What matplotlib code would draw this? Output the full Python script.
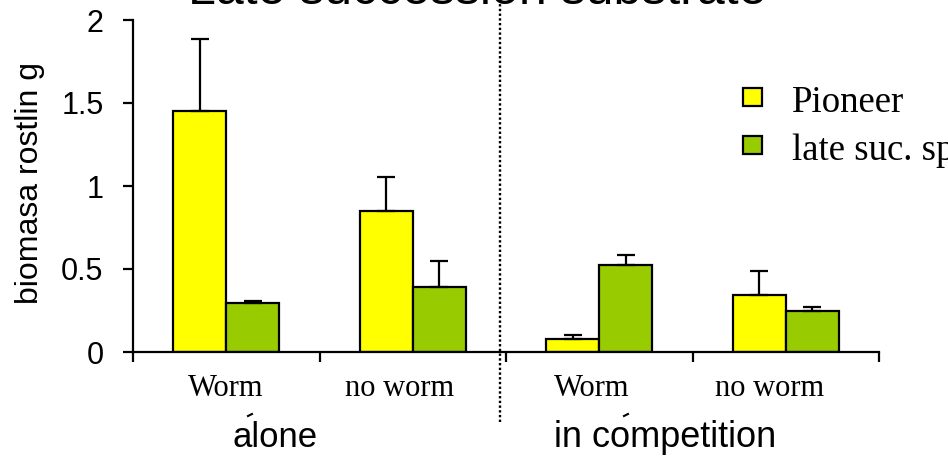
import numpy as np
import matplotlib
matplotlib.use("Agg")
import matplotlib.pyplot as plt
from matplotlib.patches import Rectangle
from matplotlib.lines import Line2D

# data
categories = ["Worm", "no worm", "Worm", "no worm"]
groups = ["alone", "in competition"]
series_names = ["Pioneer", "late suc. sp"]
pioneer = [1.45, 0.85, 0.08, 0.345]
pioneer_err = [0.435, 0.205, 0.024, 0.145]
late = [0.297, 0.393, 0.526, 0.249]
late_err = [0.012, 0.157, 0.06, 0.024]
ytick_vals = [0, 0.5, 1, 1.5, 2]
ytick_labels = ["0", "0.5", "1", "1.5", "2"]

colors = ["#FFFF00", "#99CC00"]
W, H = 948, 458

fig = plt.figure(figsize=(W / 100, H / 100), dpi=100)
ax = fig.add_axes([133 / W, 1 - 352 / H, 746 / W, 332 / H])

x = np.arange(len(categories))
bw = 0.284
for i, (vals, errs) in enumerate([(pioneer, pioneer_err), (late, late_err)]):
    pos = x + (i - 0.5) * bw
    ax.bar(pos, vals, bw, color=colors[i], edgecolor="black", linewidth=1.6, zorder=2)
    ax.errorbar(pos, vals, yerr=[np.zeros(len(vals)), errs], fmt="none",
                ecolor="black", elinewidth=1.6, capsize=6.5, capthick=1.6, zorder=3)

ax.set_xlim(-0.5, 3.5)
ax.set_ylim(0, 2)
for s in ["top", "right"]:
    ax.spines[s].set_visible(False)
for s in ["left", "bottom"]:
    ax.spines[s].set_linewidth(1.6)

ax.set_yticks(ytick_vals)
ax.set_yticklabels(ytick_labels, fontfamily="Liberation Sans", fontsize=22)
ax.tick_params(axis="y", direction="out", length=7.2, width=1.6, pad=14)

ax.set_xticks(np.arange(-0.5, len(categories), 1.0))
ax.set_xticklabels([])
ax.tick_params(axis="x", which="major", direction="out", length=7.2, width=1.6)
# category labels sit slightly left of the bar centres in the original
ax.set_xticks(x - np.array([0.005, 0.07, 0.04, 0.086]), minor=True)
ax.set_xticklabels(categories, minor=True, fontfamily="Liberation Serif", fontsize=22)
ax.tick_params(axis="x", which="minor", length=0, pad=16)

ax.set_ylabel("biomasa rostlin g", fontfamily="Liberation Sans", fontsize=23)
ax.yaxis.set_label_coords(-(133 - 45) / 746, (352 - 183) / 332)

# dotted separator
ax.plot([1.468, 1.468], [-0.42, 2.2], color="black", linestyle=(0, (1, 1.0)),
        linewidth=1.7, clip_on=False, zorder=1)

# title (cut off at the top)
fig.text(477 / W, 1 - 4 / H, "Late succession substrate", ha="center", va="baseline",
         fontfamily="Liberation Sans", fontsize=36)

# group labels
fig.text(275.5 / W, 1 - 447 / H, groups[0], ha="center", va="baseline",
         fontfamily="Liberation Sans", fontsize=25)
fig.text(665.5 / W, 1 - 447 / H, groups[1], ha="center", va="baseline",
         fontfamily="Liberation Sans", fontsize=26)

# small leftover marks above the group labels
for mx in [250, 626]:
    fig.add_artist(Line2D([(mx - 2) / W, (mx + 2) / W], [1 - 416 / H, 1 - 414 / H],
                          transform=fig.transFigure, color="black", linewidth=1.5))

# legend
for i, name in enumerate(series_names):
    top = 88 + i * 48
    fig.add_artist(Rectangle((743 / W, 1 - (top + 18) / H), 19 / W, 18 / H,
                             transform=fig.transFigure, facecolor=colors[i],
                             edgecolor="black", linewidth=1.6))
    fig.text(792 / W, 1 - (top + 24) / H, name, ha="left", va="baseline",
             fontfamily="Liberation Serif", fontsize=26.5)

fig.savefig("out.png", dpi=100)
